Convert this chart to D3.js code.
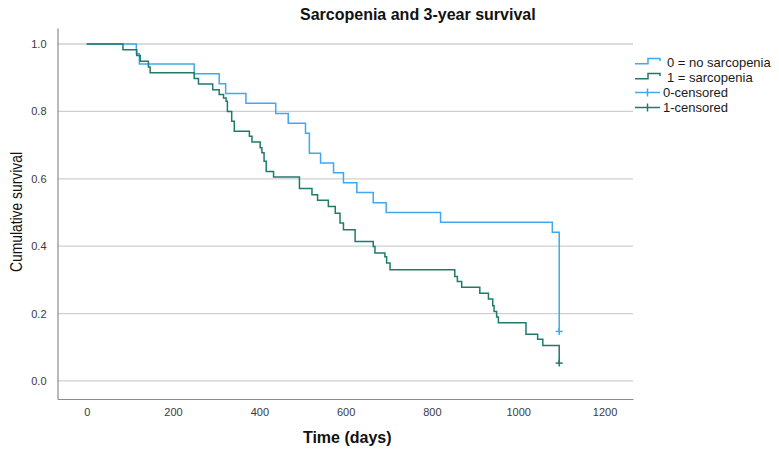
<!DOCTYPE html>
<html>
<head>
<meta charset="utf-8">
<script src="https://cdn.jsdelivr.net/npm/d3@7"></script>
<style>
  html, body { margin: 0; padding: 0; background: #fff; }
  svg { display: block; font-family: "Liberation Sans", Arial, sans-serif; }
</style>
</head>
<body>
<svg id="chart" width="779" height="455"></svg>
<script>
// ---------- data ----------
const chartTitle = "Sarcopenia and 3-year survival";
const xTitle = "Time (days)";
const yTitle = "Cumulative survival";
const xTicks = [0, 200, 400, 600, 800, 1000, 1200];
const yTicks = [0.0, 0.2, 0.4, 0.6, 0.8, 1.0];
const seriesNames = ["0 = no sarcopenia", "1 = sarcopenia"];
const censorNames = ["0-censored", "1-censored"];

const noSarcTime = [0, 115, 122, 249, 307, 322, 369, 438, 467, 507, 516, 542, 572, 595, 626, 664, 694, 820, 1079, 1095];
const noSarcSurv = [1.000, 0.971, 0.941, 0.912, 0.882, 0.853, 0.824, 0.794, 0.765, 0.735, 0.676, 0.647, 0.618, 0.588, 0.559, 0.529, 0.500, 0.471, 0.441, 0.147];

const sarcTime = [0, 84, 116, 124, 143, 147, 249, 259, 292, 307, 317, 323, 326, 336, 342, 377, 383, 402, 406, 411, 416, 433, 493, 522, 535, 560, 576, 587, 595, 622, 664, 668, 691, 695, 703, 853, 859, 869, 911, 931, 941, 944, 950, 954, 1018, 1045, 1057, 1095];
const sarcSurv = [1.000, 0.983, 0.966, 0.949, 0.932, 0.915, 0.898, 0.881, 0.864, 0.850, 0.840, 0.830, 0.800, 0.771, 0.741, 0.726, 0.709, 0.692, 0.677, 0.652, 0.622, 0.605, 0.571, 0.553, 0.536, 0.518, 0.498, 0.469, 0.449, 0.414, 0.399, 0.380, 0.369, 0.350, 0.330, 0.310, 0.295, 0.278, 0.260, 0.243, 0.223, 0.206, 0.190, 0.173, 0.139, 0.124, 0.105, 0.053];

// censored observations (time, survival)
const noSarcCensorTime = [1095];
const noSarcCensorSurv = [0.147];
const sarcCensorTime = [1095];
const sarcCensorSurv = [0.053];

// ---------- layout ----------
const colors = ["#40a8f0", "#1f7a6c"];
const plot = { left: 57.5, right: 633, top: 28, bottom: 399 };

const svg = d3.select("#chart");

const x = d3.scaleLinear().domain([-67.7, 1266]).range([plot.left, plot.right]);
const y = d3.scaleLinear().domain([-0.0535, 1.0475]).range([plot.bottom, plot.top]);

// gridlines
svg.append("g").selectAll("line").data(yTicks).join("line")
  .attr("x1", plot.left).attr("x2", plot.right)
  .attr("y1", d => y(d)).attr("y2", d => y(d))
  .attr("stroke", "#cfcfcf").attr("stroke-width", 1.3);

// axes
const xAxis = d3.axisBottom(x).tickValues(xTicks).tickSize(0).tickSizeOuter(0).tickPadding(9)
  .tickFormat(d3.format("d"));
const gx = svg.append("g").attr("transform", `translate(0,${plot.bottom})`).call(xAxis);
gx.select(".domain").attr("stroke", "#8c8c8c").attr("stroke-width", 1.2);
gx.selectAll("text").attr("font-size", 11).attr("fill", "#3a3a3a")
  .attr("font-family", "Liberation Sans, Arial, sans-serif");

const yAxis = d3.axisLeft(y).tickValues(yTicks).tickSize(0).tickSizeOuter(0).tickPadding(11)
  .tickFormat(d3.format(".1f"));
const gy = svg.append("g").attr("transform", `translate(${plot.left},0)`).call(yAxis);
gy.select(".domain").attr("stroke", "#8c8c8c").attr("stroke-width", 1.2);
gy.selectAll("text").attr("font-size", 11).attr("fill", "#3a3a3a")
  .attr("font-family", "Liberation Sans, Arial, sans-serif");

// KM step curves
const line = d3.line().x(d => x(d[0])).y(d => y(d[1])).curve(d3.curveStepAfter);
const series = [
  d3.zip(noSarcTime, noSarcSurv),
  d3.zip(sarcTime, sarcSurv)
];
svg.append("g").selectAll("path").data(series).join("path")
  .attr("d", line)
  .attr("fill", "none")
  .attr("stroke", (d, i) => colors[i])
  .attr("stroke-width", 1.5);

// censor marks
const censors = [
  d3.zip(noSarcCensorTime, noSarcCensorSurv).map(p => ({ p, c: 0 })),
  d3.zip(sarcCensorTime, sarcCensorSurv).map(p => ({ p, c: 1 }))
].flat();
const cg = svg.append("g").selectAll("g").data(censors).join("g")
  .attr("transform", d => `translate(${x(d.p[0])},${y(d.p[1])})`)
  .attr("stroke", d => colors[d.c]).attr("stroke-width", 1.5);
cg.append("line").attr("x1", -3.5).attr("x2", 3.5).attr("y1", 0).attr("y2", 0);
cg.append("line").attr("x1", 0).attr("x2", 0).attr("y1", -3.5).attr("y2", 3.5);

// titles
svg.append("text").attr("x", 300).attr("y", 20)
  .attr("font-size", 16).attr("font-weight", "bold").attr("fill", "#111")
  .text(chartTitle);

svg.append("text").attr("x", (plot.left + plot.right) / 2 + 2).attr("y", 443)
  .attr("text-anchor", "middle").attr("font-size", 16).attr("font-weight", "bold").attr("fill", "#111")
  .text(xTitle);

svg.append("text")
  .attr("transform", `translate(22,212) rotate(-90)`)
  .attr("text-anchor", "middle")
  .attr("font-family", "'Liberation Sans Narrow', 'Liberation Sans', Arial, sans-serif")
  .attr("font-size", 17).attr("fill", "#111")
  .attr("textLength", 120).attr("lengthAdjust", "spacingAndGlyphs")
  .text(yTitle);

// legend
const legRows = [62.5, 77.5, 92.5, 107.5];
const lg = svg.append("g");
seriesNames.forEach((name, i) => {
  const ry = legRows[i];
  lg.append("path")
    .attr("d", `M635,${ry + 1.2}H648V${ry - 4}H660V${ry - 1.5}`)
    .attr("fill", "none").attr("stroke", colors[i]).attr("stroke-width", 1.5);
  lg.append("text").attr("x", 667).attr("y", ry + 4.5)
    .attr("font-size", 13).attr("fill", "#1a1a1a").text(name);
});
censorNames.forEach((name, i) => {
  const ry = legRows[i + 2];
  lg.append("line").attr("x1", 635).attr("x2", 660).attr("y1", ry).attr("y2", ry)
    .attr("stroke", colors[i]).attr("stroke-width", 1.5);
  lg.append("line").attr("x1", 647.5).attr("x2", 647.5).attr("y1", ry - 4).attr("y2", ry + 4)
    .attr("stroke", colors[i]).attr("stroke-width", 1.5);
  lg.append("text").attr("x", 663).attr("y", ry + 4.5)
    .attr("font-size", 13).attr("fill", "#1a1a1a").text(name);
});
</script>
</body>
</html>
